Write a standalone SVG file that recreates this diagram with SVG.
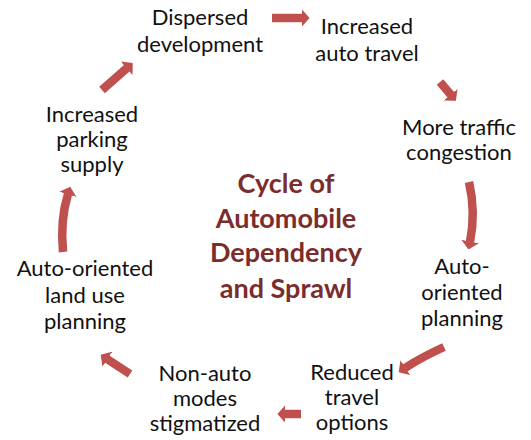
<svg xmlns="http://www.w3.org/2000/svg" width="531" height="440" viewBox="0 0 531 440">
<style>
.t{font-family:Lato,"Open Sans","Liberation Sans",sans-serif;font-size:22px;fill:#111;text-anchor:middle}
.h{font-family:Lato,"Open Sans","Liberation Sans",sans-serif;font-size:27px;font-weight:bold;fill:#7b2c2c;text-anchor:middle}
.a{fill:none;stroke:#c0504d;stroke-width:8.5;marker-end:url(#ah)}
</style>
<defs>
<marker id="ah" viewBox="0 0 9 20" refX="0.5" refY="10" markerWidth="0.95" markerHeight="2.1" markerUnits="strokeWidth" orient="auto">
<path d="M0,0 L9,10 L0,20 z" fill="#c0504d"/>
</marker>
</defs>
<rect width="531" height="440" fill="#fff"/>
<g id="connectors">
<path class="a" d="M272,18 L302,18"/>
<path class="a" d="M440,82 L451,95"/>
<path class="a" d="M469,182 Q476,212 470,242"/>
<path class="a" d="M444,347 Q420,358 405,368"/>
<path class="a" d="M301,414 L285,414"/>
<path class="a" d="M130,374 L107,359"/>
<path class="a" d="M63,252 Q60,220 68,194"/>
<path class="a" d="M102,90 L127,68"/>
</g>
<g id="title"><text class="h"><tspan x="286" y="193">Cycle of</tspan><tspan x="286" y="228">Automobile</tspan><tspan x="286" y="262">Dependency</tspan><tspan x="286" y="298">and Sprawl</tspan></text></g>
<g id="n1"><text class="t"><tspan x="200" y="25">Dispersed</tspan><tspan x="200" y="52">development</tspan></text></g>
<g id="n2"><text class="t"><tspan x="367" y="34">Increased</tspan><tspan x="367" y="61">auto travel</tspan></text></g>
<g id="n3"><text class="t"><tspan x="459" y="135">More traffic</tspan><tspan x="459" y="160">congestion</tspan></text></g>
<g id="n4"><text class="t"><tspan x="462" y="274">Auto-</tspan><tspan x="462" y="300">oriented</tspan><tspan x="462" y="326">planning</tspan></text></g>
<g id="n5"><text class="t"><tspan x="352" y="380">Reduced</tspan><tspan x="352" y="405">travel</tspan><tspan x="352" y="430">options</tspan></text></g>
<g id="n6"><text class="t"><tspan x="205" y="381">Non-auto</tspan><tspan x="205" y="406">modes</tspan><tspan x="205" y="431">stigmatized</tspan></text></g>
<g id="n7"><text class="t"><tspan x="85" y="276">Auto-oriented</tspan><tspan x="85" y="303">land use</tspan><tspan x="85" y="329">planning</tspan></text></g>
<g id="n8"><text class="t"><tspan x="92" y="122">Increased</tspan><tspan x="92" y="147">parking</tspan><tspan x="92" y="172">supply</tspan></text></g>
</svg>
